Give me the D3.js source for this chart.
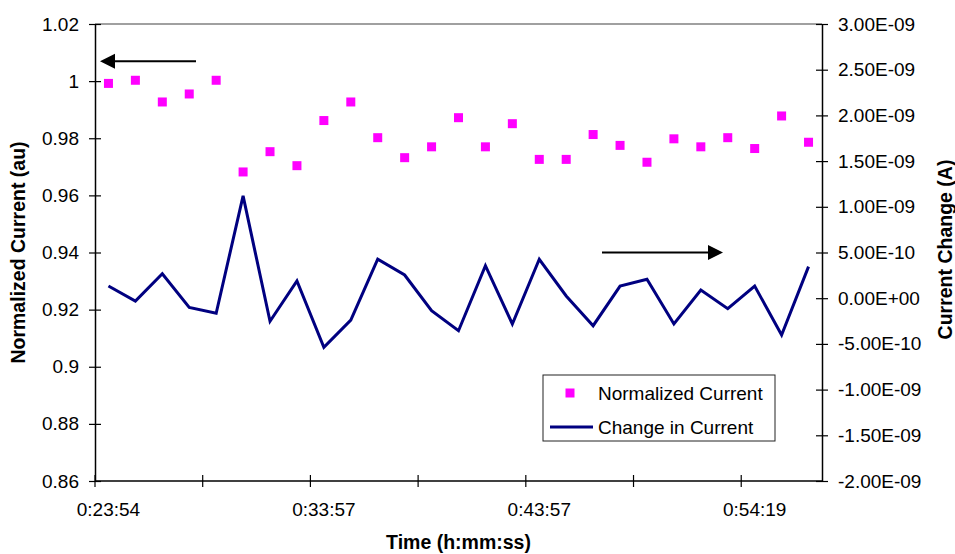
<!DOCTYPE html>
<html>
<head>
<meta charset="utf-8">
<script src="https://cdn.jsdelivr.net/npm/d3@7"></script>
<style>
  html, body { margin: 0; padding: 0; background: #fff; }
  svg { display: block; font-family: "Liberation Sans", Arial, sans-serif; }
</style>
</head>
<body>
<svg id="chart" width="955" height="554"></svg>
<script>
// ---- Data ----
const categories = [
  "0:23:54","0:25:09","0:26:24","0:27:40","0:28:55","0:30:10","0:31:26","0:32:41","0:33:57",
  "0:35:12","0:36:27","0:37:42","0:38:57","0:40:12","0:41:27","0:42:42","0:43:57",
  "0:45:15","0:46:32","0:47:50","0:49:08","0:50:26","0:51:44","0:53:01","0:54:19",
  "0:55:37","0:56:55"
];
const normalizedCurrent = [
  0.9992, 1.0003, 0.9927, 0.9955, 1.0003, 0.9682, 0.9753, 0.9704, 0.9862,
  0.9927, 0.9802, 0.9732, 0.9770, 0.9872, 0.9770, 0.9851, 0.9726,
  0.9726, 0.9813, 0.9775, 0.9716, 0.9798, 0.9770, 0.9802, 0.9764,
  0.9878, 0.9786
];
const changeInCurrent = [
  1.33e-10, -0.31e-10, 2.68e-10, -1.00e-10, -1.65e-10, 1.12e-9, -2.53e-10, 1.88e-10, -5.37e-10,
  -2.39e-10, 4.26e-10, 2.54e-10, -1.37e-10, -3.56e-10, 3.56e-10, -2.82e-10, 4.26e-10,
  0.24e-10, -3.01e-10, 1.33e-10, 2.07e-10, -2.82e-10, 0.90e-10, -1.15e-10, 1.33e-10,
  -4.03e-10, 3.45e-10
];
const leftTicks = [0.86, 0.88, 0.90, 0.92, 0.94, 0.96, 0.98, 1.00, 1.02];
const rightTicks = [-2e-9, -1.5e-9, -1e-9, -5e-10, 0, 5e-10, 1e-9, 1.5e-9, 2e-9, 2.5e-9, 3e-9];
const xLabelEvery = 8;   // category labels shown
const xTickEvery = 4;    // tick marks between categories
const seriesNames = ["Normalized Current", "Change in Current"];

// ---- Layout ----
const L = 95, R = 822, T = 24, B = 481;
const svg = d3.select("#chart");

const x = d3.scaleBand().domain(d3.range(categories.length)).range([L, R]).padding(0);
const yL = d3.scaleLinear().domain([0.86, 1.02]).range([B, T]);
const yR = d3.scaleLinear().domain([-2e-9, 3e-9]).range([B, T]);

function sci(v) {
  if (v === 0) return "0.00E+00";
  const s = v.toExponential(2);
  const [m, e] = s.split("e");
  const ev = parseInt(e, 10);
  const es = (ev < 0 ? "-" : "+") + String(Math.abs(ev)).padStart(2, "0");
  return m + "E" + es;
}
function plain(v) { return String(+v.toFixed(2)); }

// top plot-area border (gray)
svg.append("line").attr("x1", L).attr("x2", R).attr("y1", T).attr("y2", T)
  .attr("stroke", "#808080").attr("stroke-width", 1.5);

// Left axis
const gL = svg.append("g").attr("transform", `translate(${L},0)`)
  .call(d3.axisLeft(yL).tickValues(leftTicks).tickFormat(plain).tickSize(6).tickSizeOuter(0).tickPadding(10));
gL.select(".domain").attr("stroke", "#000").attr("stroke-width", 1.5);
gL.selectAll(".tick line").attr("x1", 6).attr("x2", -6).attr("stroke", "#000").attr("stroke-width", 1.2);
gL.selectAll(".tick text").attr("font-size", 19).attr("fill", "#000")
  .attr("font-family", "'Liberation Sans', Arial, sans-serif");

// Right axis
const gR = svg.append("g").attr("transform", `translate(${R},0)`)
  .call(d3.axisRight(yR).tickValues(rightTicks).tickFormat(sci).tickSize(6).tickSizeOuter(0).tickPadding(10));
gR.select(".domain").attr("stroke", "#000").attr("stroke-width", 1.5);
gR.selectAll(".tick line").attr("x1", -6).attr("x2", 6).attr("stroke", "#000").attr("stroke-width", 1.2);
gR.selectAll(".tick text").attr("font-size", 19).attr("fill", "#000")
  .attr("font-family", "'Liberation Sans', Arial, sans-serif");

// Bottom axis
svg.append("line").attr("x1", L).attr("x2", R).attr("y1", B).attr("y2", B)
  .attr("stroke", "#000").attr("stroke-width", 1.5);
const boundaryIdx = d3.range(0, categories.length).filter(i => i % xTickEvery === 0);
svg.append("g").selectAll("line").data(boundaryIdx).join("line")
  .attr("x1", i => x(i)).attr("x2", i => x(i))
  .attr("y1", B - 6).attr("y2", B + 6)
  .attr("stroke", "#000").attr("stroke-width", 1.2);
const labelIdx = d3.range(0, categories.length).filter(i => i % xLabelEvery === 0);
svg.append("g").selectAll("text").data(labelIdx).join("text")
  .attr("x", i => x(i) + x.bandwidth() / 2)
  .attr("y", 516)
  .attr("text-anchor", "middle")
  .attr("font-size", 19)
  .attr("fill", "#000")
  .text(i => categories[i]);

// Axis titles
svg.append("text").attr("x", (L + R) / 2).attr("y", 549)
  .attr("text-anchor", "middle").attr("font-size", 19.5).attr("font-weight", "bold")
  .text("Time (h:mm:ss)");
svg.append("text").attr("transform", `translate(25,${(T + B) / 2}) rotate(-90)`)
  .attr("text-anchor", "middle").attr("font-size", 19.5).attr("font-weight", "bold")
  .text("Normalized Current (au)");
svg.append("text").attr("transform", `translate(952,${(T + B) / 2 - 3}) rotate(-90)`)
  .attr("text-anchor", "middle").attr("font-size", 19.5).attr("font-weight", "bold")
  .text("Current Change (A)");

// Line series (right axis)
const line = d3.line().x((d, i) => x(i) + x.bandwidth() / 2).y(d => yR(d));
svg.append("path").datum(changeInCurrent)
  .attr("d", line).attr("fill", "none").attr("stroke", "#000080")
  .attr("stroke-width", 3).attr("stroke-linejoin", "miter");

// Scatter markers (left axis)
const ms = 9;
svg.append("g").selectAll("rect").data(normalizedCurrent).join("rect")
  .attr("x", (d, i) => x(i) + x.bandwidth() / 2 - ms / 2)
  .attr("y", d => yL(d) - ms / 2)
  .attr("width", ms).attr("height", ms)
  .attr("fill", "#FF00FF");

// Arrows (annotations)
function arrow(x1, x2, y, dir) {
  const head = 15, half = 7.5;
  const tip = dir < 0 ? x1 : x2;
  const base = tip - dir * head;
  svg.append("line")
    .attr("x1", dir < 0 ? base : x1).attr("x2", dir < 0 ? x2 : base)
    .attr("y1", y).attr("y2", y).attr("stroke", "#000").attr("stroke-width", 2);
  svg.append("path")
    .attr("d", `M${tip},${y} L${base},${y - half} L${base},${y + half} Z`)
    .attr("fill", "#000");
}
arrow(100, 196, yL(1.007), -1);
arrow(602, 723, yR(5e-10), 1);

// Legend
const lg = svg.append("g");
lg.append("rect").attr("x", 543).attr("y", 375).attr("width", 232).attr("height", 66)
  .attr("fill", "#fff").attr("stroke", "#222").attr("stroke-width", 1);
lg.append("rect").attr("x", 570 - ms / 2).attr("y", 393 - ms / 2).attr("width", ms).attr("height", ms)
  .attr("fill", "#FF00FF");
lg.append("line").attr("x1", 550).attr("x2", 593).attr("y1", 427).attr("y2", 427)
  .attr("stroke", "#000080").attr("stroke-width", 3);
lg.append("text").attr("x", 598).attr("y", 393).attr("dy", "0.35em").attr("font-size", 19)
  .text(seriesNames[0]);
lg.append("text").attr("x", 598).attr("y", 427).attr("dy", "0.35em").attr("font-size", 19)
  .text(seriesNames[1]);
</script>
</body>
</html>
